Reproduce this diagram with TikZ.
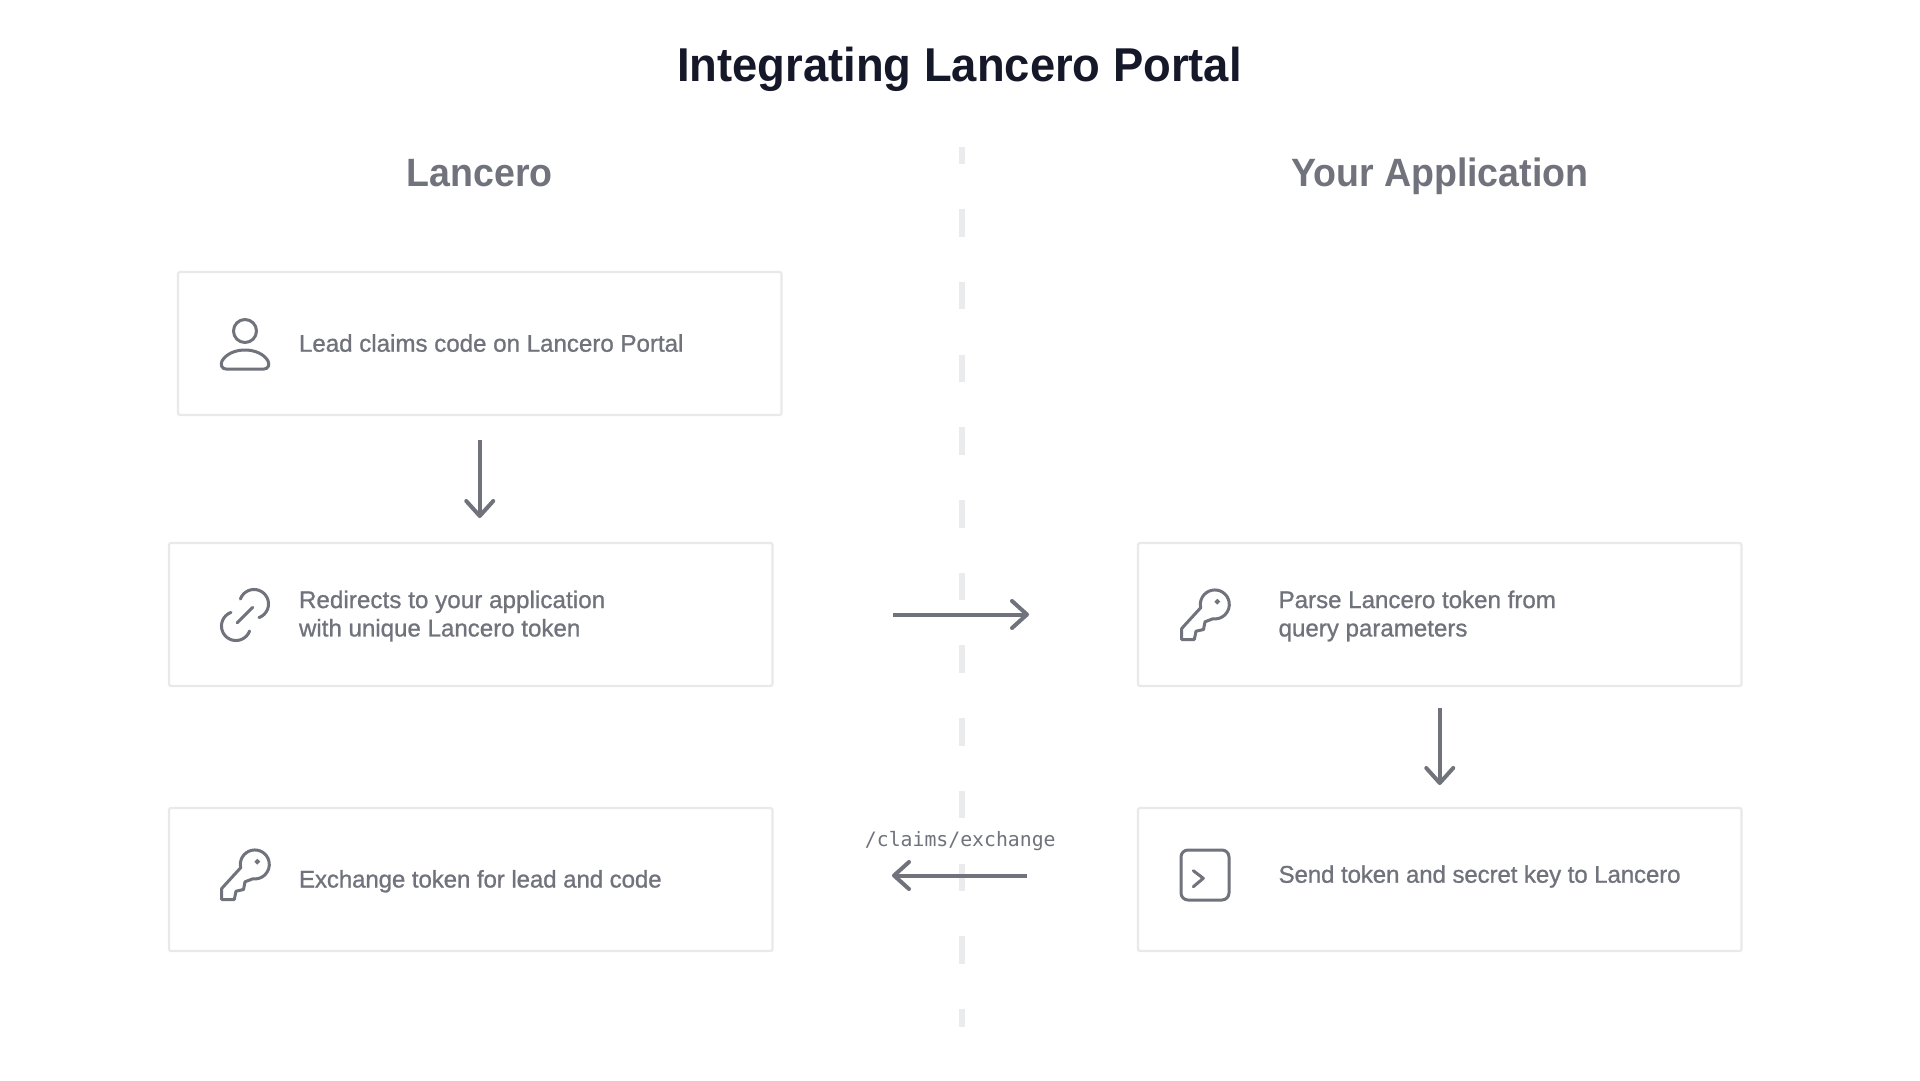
\documentclass[tikz,border=0pt]{standalone}
\usepackage{fontspec}
\usetikzlibrary{arrows.meta,calc}
\setmainfont{Liberation Sans}
\newfontfamily\bodyf[FakeBold=0.9]{Liberation Sans}
\newfontfamily\headf[FakeStretch=0.95]{Liberation Sans Bold}
\newfontfamily\titlef[FakeStretch=0.955]{Liberation Sans Bold}
\newfontfamily\monof{DejaVu Sans Mono}
\definecolor{ink}{HTML}{70727C}
\definecolor{titleink}{HTML}{141828}
\definecolor{boxline}{HTML}{E9E9EB}
\definecolor{dashline}{HTML}{EAEBED}
\tikzset{
  x=1pt,y=-1pt,
  cardbox/.style={draw=boxline,line width=2.2pt,fill=white,rounded corners=2pt,minimum width=603.5pt,minimum height=143pt,inner sep=0pt,outer sep=0pt,anchor=north west},
  cardtext/.style={inner sep=0pt,outer sep=0pt,text=ink,align=left,font=\bodyf\fontsize{24.1}{28.4}\selectfont},
  headtext/.style={inner sep=0pt,anchor=base,text=ink,font=\headf\fontsize{39.5}{44}\selectfont},
  flow/.style={draw=ink,line width=4pt,-{Straight Barb[length=15pt,width=27pt,round,line width=4pt]}},
  icon/.style={draw=ink,line width=3pt,line cap=round,line join=round},
  pics/keyicon/.style={code={
    \draw[icon] (-14.3,3.2) arc[start angle=193,end angle=-98,radius=14.5pt]
      -- (-10,17.3) -- (-11.5,25) -- (-19,26.7) -- (-20.7,35) -- (-33.3,35) -- (-33.3,24) -- cycle;
    \draw[draw=ink,line width=1.8pt] (2.3,-2.8) circle[radius=1.7pt];
  }}
}
\begin{document}
\begin{tikzpicture}
\useasboundingbox (0,0) rectangle (1920,1080);
\fill[white] (0,0) rectangle (1920,1080);
% divider
\draw[draw=dashline,line width=6pt,dash pattern=on 27.5pt off 45.2pt,dash phase=10.5pt] (962,147) -- (962,1027);
\node[inner sep=0pt,anchor=base,text=titleink,font=\titlef\fontsize{47.5}{52}\selectfont] (title) at (959.5,81) {Integrating Lancero Portal};
\node[headtext] (left) at (479.8,186.5) {Lancero};
\node[headtext] (right) at (1439.7,186.5) {Your Application};
% cards
\node[cardbox] (b1) at (178,272) {};
\node[cardbox] (b2) at (169,543) {};
\node[cardbox] (b3) at (1138,543) {};
\node[cardbox] (b4) at (169,808) {};
\node[cardbox] (b5) at (1138,808) {};
% texts
\node[cardtext,anchor=base west] (t1) at (299,351.7) {Lead claims code on Lancero Portal};
\node[cardtext,anchor=west] (t2) at (299,616) {\addfontfeature{LetterSpace=0.35}Redirects to your application\\with unique Lancero token};
\node[cardtext,anchor=west] (t3) at (1278.6,616) {Parse Lancero token from\\query parameters};
\node[cardtext,anchor=base west] (t4) at (299,887.5) {\addfontfeature{LetterSpace=-0.5}Exchange token for lead and code};
\node[cardtext,anchor=base west] (t5) at (1278.6,882.7) {\addfontfeature{LetterSpace=-0.57}Send token and secret key to Lancero};
\node[inner sep=0pt,text=ink,font=\monof\fontsize{19.8}{24}\selectfont] (route) at (960.3,841) {/claims/exchange};
% connectors
\draw[flow,shorten <=25pt,shorten >=25pt] (b1.south) -- (b1.south |- b2.north);
\draw[flow,shorten <=22pt,shorten >=23pt] (b3.south) -- (b3.south |- b5.north);
\draw[flow,shorten <=120.5pt,shorten >=109pt] (b2.east) -- (b3.west);
\draw[flow,shorten <=111pt,shorten >=119.5pt] ([yshift=4pt]b5.west) -- ([yshift=4pt]b4.east);
% person
\draw[icon] (245,331) circle[radius=11.5pt];
\draw[icon] (226,369) .. controls (222,369) and (220,365) .. (222,361) .. controls (226,354) and (235,350) .. (245,350) .. controls (255,350) and (264,354) .. (268,361) .. controls (270,365) and (268,369) .. (264,369) -- cycle;
% link
\draw[icon] (240.4,599) arc[start angle=160,end angle=-70,radius=14.5pt];
\draw[icon] (231,612.4) arc[start angle=110,end angle=340,radius=14.5pt];
\draw[icon] (237.3,622.7) -- (252.7,607.3);
% keys
\pic at (1215,604.5) {keyicon};
\pic at (255,864.5) {keyicon};
% terminal
\draw[icon,rounded corners=7pt] (1181,850) rectangle (1229,900);
\draw[icon] (1193.3,870.7) -- (1203.3,878.3) -- (1193.3,886.7);
\end{tikzpicture}
\end{document}
